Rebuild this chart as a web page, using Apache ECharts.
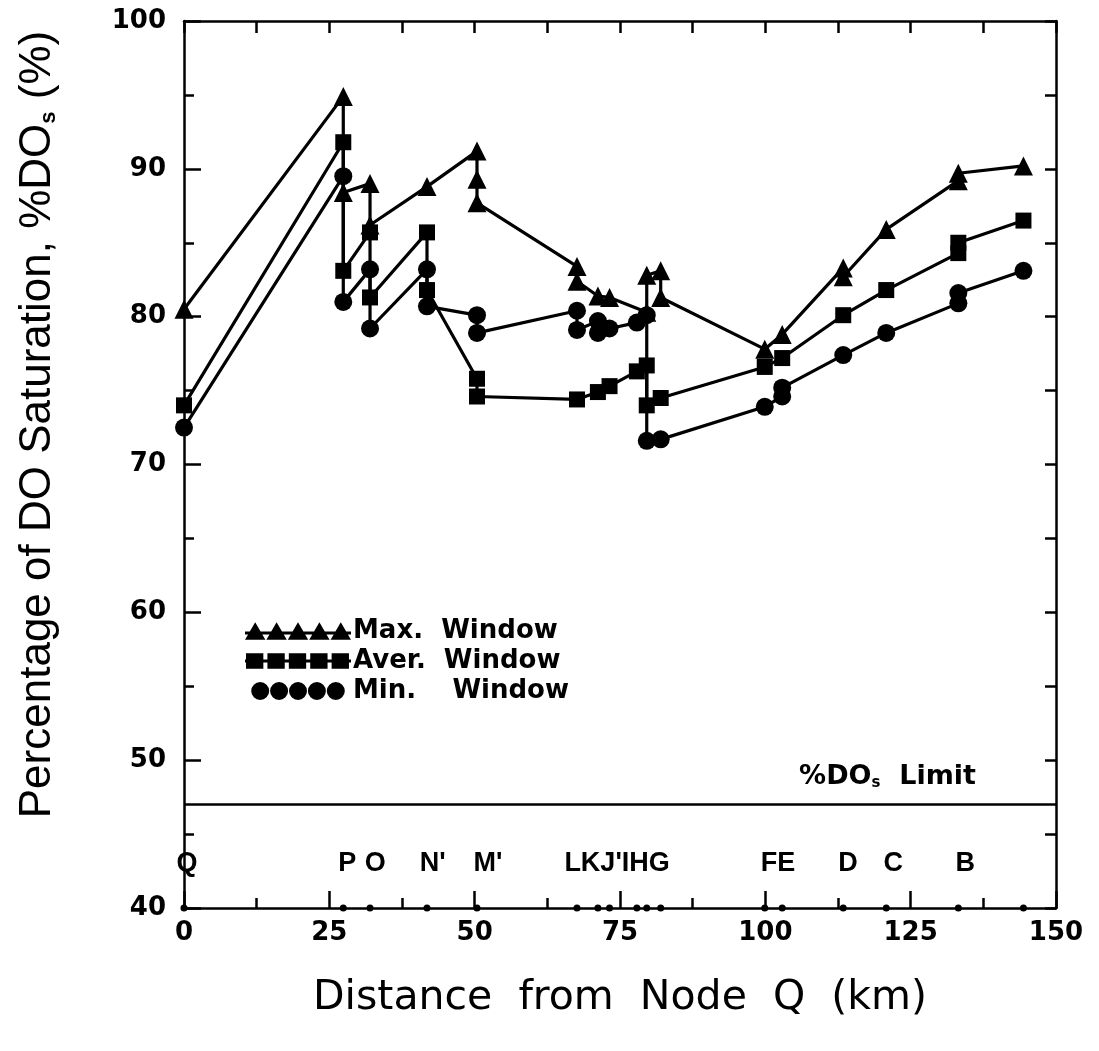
<!DOCTYPE html>
<html>
<head>
<meta charset="utf-8">
<script src="https://cdn.jsdelivr.net/npm/echarts@6/dist/echarts.min.js"></script>
<style>html,body{margin:0;padding:0;background:#fff;}#c{width:1099px;height:1051px;}</style>
</head>
<body>
<div id="c"></div>
<script>
// ---- data ----
const maxKm  = [0, 27.4, 27.4, 32.0, 32.0, 41.8, 50.4, 50.4, 50.4, 67.6, 67.6, 71.2, 73.2, 79.6, 79.6, 82.0, 82.0, 99.9, 102.9, 113.4, 113.4, 120.8, 133.2, 133.2, 144.4];
const maxPct = [80.5, 94.9, 88.4, 89.0, 86.2, 88.8, 91.2, 89.3, 87.7, 83.4, 82.4, 81.4, 81.3, 80.3, 82.8, 83.1, 81.3, 77.8, 78.8, 83.3, 82.7, 85.9, 89.2, 89.7, 90.2];

const aveKm  = [0, 27.4, 27.4, 32.0, 32.0, 41.8, 41.8, 50.4, 50.4, 67.6, 71.2, 73.2, 77.9, 79.6, 79.6, 82.0, 99.9, 102.9, 113.4, 120.8, 133.2, 133.2, 144.4];
const avePct = [74.0, 91.8, 83.1, 85.7, 81.3, 85.7, 81.8, 75.8, 74.6, 74.4, 74.9, 75.3, 76.3, 76.7, 74.0, 74.5, 76.6, 77.2, 80.1, 81.8, 84.3, 85.0, 86.5];

const minKm  = [0, 27.4, 27.4, 32.0, 32.0, 41.8, 41.8, 50.4, 50.4, 67.6, 67.6, 71.2, 71.2, 73.2, 77.9, 79.6, 79.6, 82.0, 99.9, 102.9, 102.9, 113.4, 120.8, 133.2, 133.2, 144.4];
const minPct = [72.5, 89.5, 81.0, 83.2, 79.2, 83.2, 80.7, 80.1, 78.9, 80.4, 79.1, 79.7, 78.9, 79.2, 79.6, 80.1, 71.6, 71.7, 73.9, 74.6, 75.2, 77.4, 78.9, 80.9, 81.6, 83.1];

const stationKm = [0, 27.4, 32.0, 41.8, 50.4, 67.6, 71.2, 73.2, 77.9, 79.6, 82.0, 99.9, 102.9, 113.4, 120.8, 133.2, 144.4];
const stationLabels   = ["Q", "P", "O", "N'", "M'", "LKJ'IHG", "FE", "D", "C", "B"];
const stationLabelKm  = [0.5, 28.1, 32.9, 42.8, 52.3, 74.5, 102.2, 114.2, 122.0, 134.4];
const stationLabelPct = 43;

const limitPct = 47;
const xTicks = [0, 25, 50, 75, 100, 125, 150];
const yTicks = [40, 50, 60, 70, 80, 90, 100];
const seriesNames = ["Max.  Window", "Aver.  Window", "Min.    Window"];

// ---- chart ----
const pairs = (xs, ys) => xs.map((x, i) => [x, ys[i]]);
const F = 'DejaVu Sans';
const black = '#000';

function tri5() {
  let p = '';
  for (let i = 0; i < 5; i++) { const x = i * 21; p += `M${x},17L${x + 10},0L${x + 20},17Z`; }
  return 'path://' + p + 'M0,9L104,9L104,12L0,12Z';
}
function sq5() {
  let p = '';
  for (let i = 0; i < 5; i++) { const x = i * 21 + 1; p += `M${x},1L${x + 17},1L${x + 17},16L${x},16Z`; }
  return 'path://' + p + 'M0,7L104,7L104,10L0,10Z';
}
function circ5() {
  let p = '';
  for (let i = 0; i < 5; i++) { const cx = i * 21 + 10, cy = 9, r = 10;
    p += `M${cx - r},${cy}A${r},${r},0,1,0,${cx + r},${cy}A${r},${r},0,1,0,${cx - r},${cy}Z`; }
  return 'path://' + p;
}

const chart = echarts.init(document.getElementById('c'), null, { renderer: 'canvas' });
const axisLineStyle = { color: black, width: 2.5 };
const lineSeries = (name, data, symbol, size) => ({
  name, type: 'line', data, symbol, symbolSize: size, showSymbol: true,
  lineStyle: { color: black, width: 3.2 }, itemStyle: { color: black, opacity: 1 }, clip: false,
  animation: false, z: 3
});

chart.setOption({
  animation: false,
  backgroundColor: '#fff',
  grid: { left: 184, right: 43, top: 21, bottom: 143, show: false },
  legend: {
    orient: 'vertical', left: 240, top: 613, itemGap: 4,
    itemWidth: 106, itemHeight: 18,
    textStyle: { fontFamily: F, fontWeight: 'bold', fontSize: 26, color: black, padding: [0, 0, 0, -3] },
    data: [
      { name: seriesNames[0], icon: tri5() },
      { name: seriesNames[1], icon: sq5() },
      { name: seriesNames[2], icon: circ5() }
    ],
    selectedMode: false
  },
  xAxis: [
    {
      type: 'value', position: 'bottom', min: 0, max: 150, interval: 25,
      axisLine: { show: true, onZero: false, lineStyle: axisLineStyle },
      axisTick: { show: true, inside: true, length: 17, lineStyle: axisLineStyle },
      minorTick: { show: true, splitNumber: 2, length: 10, lineStyle: axisLineStyle },
      splitLine: { show: false }, minorSplitLine: { show: false },
      axisLabel: { show: true, margin: 12, fontFamily: F, fontWeight: 'bold', fontSize: 26, color: black,
        customValues: xTicks },
      name: 'Distance  from  Node  Q  (km)', nameLocation: 'middle', nameGap: 70,
      nameTextStyle: { fontFamily: F, fontSize: 41, color: black }
    },
    {
      type: 'value', position: 'top', min: 0, max: 150, interval: 12.5,
      axisLine: { show: true, onZero: false, lineStyle: axisLineStyle },
      axisTick: { show: true, inside: true, length: 12, lineStyle: axisLineStyle },
      axisLabel: { show: false }, splitLine: { show: false }
    }
  ],
  yAxis: [
    {
      type: 'value', position: 'left', min: 40, max: 100, interval: 10,
      axisLine: { show: true, onZero: false, lineStyle: axisLineStyle },
      axisTick: { show: true, inside: true, length: 17, lineStyle: axisLineStyle },
      minorTick: { show: true, splitNumber: 2, length: 10, lineStyle: axisLineStyle },
      splitLine: { show: false }, minorSplitLine: { show: false },
      axisLabel: { show: true, margin: 18, fontFamily: F, fontWeight: 'bold', fontSize: 26, color: black,
        customValues: yTicks },
      name: 'Percentage of DO Saturation, %DO{s|s} (%)', nameLocation: 'middle', nameGap: 124,
      nameTextStyle: { fontFamily: 'Liberation Sans', fontSize: 44, color: black,
        padding: [0, 0, 0, 80],
        rich: { s: { fontFamily: 'Liberation Sans', fontSize: 22, color: black, fontWeight: 'bold', verticalAlign: 'bottom', padding: [16, 0, 0, 0] } } }
    },
    {
      type: 'value', position: 'right', min: 40, max: 100, interval: 5,
      axisLine: { show: true, onZero: false, lineStyle: axisLineStyle },
      axisTick: { show: true, inside: true, length: 11, lineStyle: axisLineStyle },
      axisLabel: { show: false }, splitLine: { show: false }
    }
  ],
  series: [
    Object.assign(lineSeries(seriesNames[0], pairs(maxKm, maxPct), 'triangle', 19), {
      markLine: {
        silent: true, symbol: 'none', animation: false,
        lineStyle: { color: black, width: 2.5, type: 'solid' },
        data: [{ yAxis: limitPct }],
        label: {
          show: true, position: 'insideEndTop', distance: [80, 14],
          formatter: '{a|%DO}{s|s}{a|  Limit}',
          rich: {
            a: { fontFamily: F, fontWeight: 'bold', fontSize: 27, color: black },
            s: { fontFamily: F, fontWeight: 'bold', fontSize: 15, color: black, verticalAlign: 'bottom', padding: [12, 0, 0, 0] }
          }
        }
      }
    }),
    lineSeries(seriesNames[1], pairs(aveKm, avePct), 'rect', 16),
    lineSeries(seriesNames[2], pairs(minKm, minPct), 'circle', 18),
    {
      name: 'stations', type: 'scatter', data: stationKm.map(k => [k, 40]),
      symbol: 'circle', symbolSize: 7, itemStyle: { color: black, opacity: 1 }, clip: false, z: 4, silent: true
    },
    {
      name: 'stationLabels', type: 'scatter',
      data: stationLabelKm.map((k, i) => [k, stationLabelPct, stationLabels[i]]),
      symbolSize: 1, clip: false, silent: true, itemStyle: { color: 'rgba(0,0,0,0)', opacity: 1 },
      label: { show: true, position: 'inside', formatter: p => p.data[2], opacity: 1,
        fontFamily: 'Liberation Sans', fontWeight: 'bold', fontSize: 27, color: black }
    }
  ]
});
</script>
</body>
</html>
